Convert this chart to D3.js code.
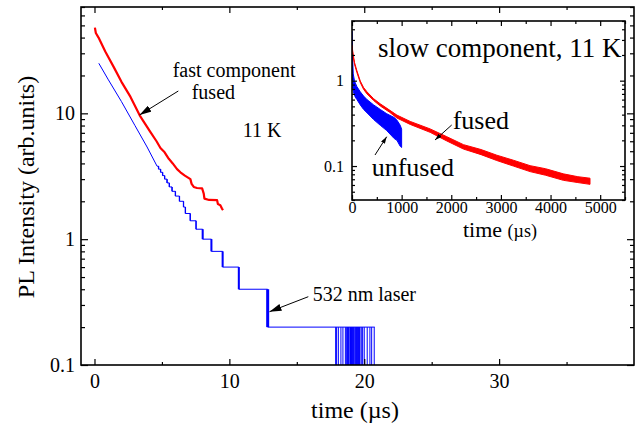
<!DOCTYPE html>
<html><head><meta charset="utf-8">
<script src="https://cdn.jsdelivr.net/npm/d3@7"></script>
<style>
body{margin:0;background:#fff}
svg{display:block}
text{font-family:"Liberation Serif","Times New Roman",serif;fill:#000}
</style>
</head><body>
<svg id="c" width="643" height="431"></svg>
<script>
// ---------------- DATA ----------------
// main panel: fast component (time in µs, PL intensity arb. units)
const fastFusedT = [0.03, 0.1, 0.3, 0.8, 1.43, 2.0, 2.67, 3.36, 4.15, 4.6, 4.89, 5.2, 5.51, 5.8, 6.12, 6.37, 6.7, 7.11, 7.2, 7.36, 7.6, 7.98, 8.1, 8.15, 8.5, 9.09, 9.15, 9.33, 9.45, 9.53];
const fastFusedV = [48, 43.5, 40, 31, 23.3, 17.8, 13.5, 9.6, 7.1, 6.0, 5.3, 4.9, 4.35, 4.0, 3.6, 3.4, 3.2, 3.0, 2.75, 2.6, 2.55, 2.53, 2.3, 2.1, 2.05, 2.04, 1.9, 1.86, 1.75, 1.7];

const fastUnfusedT = [0.32, 1.0, 2.0, 3.0, 3.9, 4.64];
const fastUnfusedV = [25, 18.7, 12.4, 8.0, 5.4, 3.8];

// quantised (photon-count) tail: level starts
const fastUnfusedStepT = [4.64, 4.75, 4.9, 5.05, 5.2, 5.38, 5.55, 5.75, 6.0, 6.3, 6.6, 6.74, 7.1, 7.53, 8.02, 8.67, 9.5, 10.7, 12.84, 20.78];
const fastUnfusedStepV = [3.8, 3.6, 3.4, 3.2, 3.0, 2.8, 2.6, 2.4, 2.2, 2.0, 1.8, 1.6, 1.4, 1.2, 1.0, 0.8, 0.6, 0.4, 0.2, 0.2];

// times where the unfused signal drops to zero counts
const fastUnfusedZeroT = [17.88, 17.95, 18.08, 18.27, 18.42, 18.6, 18.7, 18.74, 18.78, 18.82, 18.86, 18.94, 18.98, 19.02, 19.06, 19.1, 19.14, 19.18, 19.22, 19.26, 19.36, 19.4, 19.44, 19.48, 19.52, 19.56, 19.6, 19.64, 19.68, 19.78, 19.88, 20.0, 20.22, 20.42, 20.55, 20.74];

// inset: slow component (noise band lower / upper edge)
const slowFusedT  = [0, 20, 50, 100, 167, 234, 302, 436, 570, 750, 905, 1173, 1575, 1900, 2246, 2600, 2917, 3250, 3588, 3900, 4258, 4550, 4795];
const slowFusedLo = [2.42, 1.98, 1.56, 1.24, 0.95, 0.79, 0.70, 0.585, 0.505, 0.43, 0.365, 0.307, 0.248, 0.198, 0.158, 0.136, 0.116, 0.1, 0.086, 0.078, 0.068, 0.064, 0.061];
const slowFusedHi = [2.6, 2.1, 1.64, 1.30, 0.99, 0.83, 0.74, 0.615, 0.535, 0.455, 0.395, 0.333, 0.272, 0.222, 0.178, 0.156, 0.134, 0.117, 0.101, 0.093, 0.081, 0.075, 0.072];

const slowUnfusedT  = [0, 10, 25, 50, 67, 100, 167, 234, 302, 436, 570, 700, 850, 905, 972, 1000];
const slowUnfusedLo = [1.0, 0.85, 0.75, 0.68, 0.64, 0.6, 0.52, 0.46, 0.42, 0.35, 0.3, 0.26, 0.21, 0.2, 0.17, 0.165];
const slowUnfusedHi = [3.8, 2.0, 1.2, 1.0, 0.94, 0.85, 0.74, 0.66, 0.6, 0.52, 0.46, 0.41, 0.37, 0.345, 0.3, 0.27];

// axes
const mainXDomain = [-1, 40];
const mainYDomain = [0.1, 70];
const mainXTicks = [0, 10, 20, 30];
const mainXTickLabels = ["0", "10", "20", "30"];
const mainXMinor = [5, 15, 25, 35];
const mainYTicks = [0.1, 1, 10];
const mainYTickLabels = ["0.1", "1", "10"];
const mainYMinor = [0.2,0.3,0.4,0.5,0.6,0.7,0.8,0.9,2,3,4,5,6,7,8,9,20,30,40,50,60,70];

const insetXDomain = [0, 5500];
const insetYDomain = [0.04, 5];
const insetXTicks = [0, 1000, 2000, 3000, 4000, 5000];
const insetXTickLabels = ["0", "1000", "2000", "3000", "4000", "5000"];
const insetXMinor = [500, 1500, 2500, 3500, 4500, 5500];
const insetYTicks = [0.1, 1];
const insetYTickLabels = ["0.1", "1"];
const insetYMinor = [0.04,0.05,0.06,0.07,0.08,0.09,0.2,0.3,0.4,0.5,0.6,0.7,0.8,0.9,2,3,4,5];

// ---------------- DRAW ----------------
const RED = "#ff0000", BLUE = "#0000ff";
const svg = d3.select("#c");
const M = {l: 81, r: 634, t: 7, b: 365};
const I = {l: 352, r: 625, t: 21, b: 200};

const x = d3.scaleLinear().domain(mainXDomain).range([M.l, M.r]);
const y = d3.scaleLog().domain(mainYDomain).range([M.b, M.t]);
const xi = d3.scaleLinear().domain(insetXDomain).range([I.l, I.r]);
const yi = d3.scaleLog().domain(insetYDomain).range([I.b, I.t]);

const defs = svg.append("defs");
function marker(id, w, h) {
  defs.append("marker").attr("id", id).attr("markerUnits", "userSpaceOnUse")
    .attr("viewBox", `0 0 ${w} ${h}`).attr("refX", w).attr("refY", h/2)
    .attr("markerWidth", w).attr("markerHeight", h).attr("orient", "auto")
    .append("path").attr("d", `M0,0L${w},${h/2}L0,${h}Z`).attr("fill", "#000");
}
marker("ahBig", 12, 7);
marker("ahSmall", 7, 4.5);
defs.append("clipPath").attr("id", "clipM").append("rect")
  .attr("x", M.l).attr("y", M.t).attr("width", M.r - M.l).attr("height", M.b - M.t);
defs.append("clipPath").attr("id", "clipI").append("rect")
  .attr("x", I.l).attr("y", I.t).attr("width", I.r - I.l).attr("height", I.b - I.t);

// ---- main data
const gm = svg.append("g").attr("clip-path", "url(#clipM)");

gm.selectAll("line.zero").data(fastUnfusedZeroT).enter().append("line")
  .attr("x1", d => x(d)).attr("x2", d => x(d))
  .attr("y1", y(0.2)).attr("y2", M.b)
  .attr("stroke", BLUE).attr("stroke-width", 1);

gm.append("path").datum(fastUnfusedT.map((t, i) => [t, fastUnfusedV[i]]))
  .attr("d", d3.line().x(d => x(d[0])).y(d => y(d[1])))
  .attr("fill", "none").attr("stroke", BLUE).attr("stroke-width", 1);
const stepData = fastUnfusedStepT.map((t, i) => [t, fastUnfusedStepV[i]]);
gm.append("path").datum(stepData)
  .attr("d", d3.line().curve(d3.curveStepAfter).x(d => x(d[0])).y(d => y(d[1])))
  .attr("fill", "none").attr("stroke", BLUE).attr("stroke-width", 1);
gm.selectAll("line.riser").data(stepData.slice(1, -1).map((d, i) => [d[0], stepData[i][1], d[1]]))
  .enter().append("line")
  .attr("x1", d => x(d[0])).attr("x2", d => x(d[0]))
  .attr("y1", d => y(d[1])).attr("y2", d => y(d[2]))
  .attr("stroke", BLUE).attr("stroke-width", d => d[2] < 0.3 ? 3 : (d[2] < 1.1 ? 2 : 1.3));

gm.append("path").datum(fastFusedT.map((t, i) => [t, fastFusedV[i]]))
  .attr("d", d3.line().x(d => x(d[0])).y(d => y(d[1])))
  .attr("fill", "none").attr("stroke", RED).attr("stroke-width", 2.2).attr("stroke-linejoin", "round");

// ---- axes helper
function styleAxis(g) {
  g.select(".domain").remove();
  g.attr("font-family", null).attr("font-size", null);
  g.selectAll("line").attr("stroke", "#000").attr("stroke-width", 1.2);
}
function drawAxes(xs, ys, B, o) {
  const g = svg.append("g");
  g.append("g").attr("transform", `translate(0,${B.b})`)
    .call(d3.axisBottom(xs).tickValues(o.xt).tickFormat((d, i) => o.xl[i]).tickSize(-o.maj).tickPadding(o.xpad))
    .call(styleAxis).selectAll("text").style("font-size", o.fs + "px");
  g.append("g").attr("transform", `translate(0,${B.b})`)
    .call(d3.axisBottom(xs).tickValues(o.xm).tickFormat("").tickSize(-o.min)).call(styleAxis);
  g.append("g").attr("transform", `translate(0,${B.t})`)
    .call(d3.axisTop(xs).tickValues(o.xt).tickFormat("").tickSize(-o.maj)).call(styleAxis);
  g.append("g").attr("transform", `translate(0,${B.t})`)
    .call(d3.axisTop(xs).tickValues(o.xm).tickFormat("").tickSize(-o.min)).call(styleAxis);
  g.append("g").attr("transform", `translate(${B.l},0)`)
    .call(d3.axisLeft(ys).tickValues(o.yt).tickFormat((d, i) => o.yl[i]).tickSize(-o.ymaj).tickPadding(o.ypad))
    .call(styleAxis).selectAll("text").style("font-size", o.fs + "px");
  g.append("g").attr("transform", `translate(${B.l},0)`)
    .call(d3.axisLeft(ys).tickValues(o.ym).tickFormat("").tickSize(-o.ymin)).call(styleAxis);
  g.append("g").attr("transform", `translate(${B.r},0)`)
    .call(d3.axisRight(ys).tickValues(o.yt).tickFormat("").tickSize(-o.ymaj)).call(styleAxis);
  g.append("g").attr("transform", `translate(${B.r},0)`)
    .call(d3.axisRight(ys).tickValues(o.ym).tickFormat("").tickSize(-o.ymin)).call(styleAxis);
  svg.append("rect").attr("x", B.l).attr("y", B.t).attr("width", B.r - B.l).attr("height", B.b - B.t)
    .attr("fill", "none").attr("stroke", "#000").attr("stroke-width", 1.6);
}
drawAxes(x, y, M, {xt: mainXTicks, xl: mainXTickLabels, xm: mainXMinor, yt: mainYTicks, yl: mainYTickLabels, ym: mainYMinor,
  maj: 6, min: 3, ymaj: 7, ymin: 4, xpad: 9, ypad: 6, fs: 20});

svg.append("text").attr("x", 355).attr("y", 418).attr("text-anchor", "middle").style("font-size", "24px").text("time (µs)");
svg.append("text").attr("transform", "translate(34,187) rotate(-90)").attr("text-anchor", "middle")
  .style("font-size", "24px").text("PL Intensity (arb.units)");

function txt(xp, yp, s, fs) {
  return svg.append("text").attr("x", xp).attr("y", yp).style("font-size", fs + "px").text(s);
}
txt(172.7, 76.7, "fast component", 20);
txt(191.7, 99.3, "fused", 20);
txt(242.7, 136.7, "11 K", 20);
txt(312.7, 300.7, "532 nm laser", 20);
function arrow(x1, y1, x2, y2, m, w) {
  svg.append("line").attr("x1", x1).attr("y1", y1).attr("x2", x2).attr("y2", y2)
    .attr("stroke", "#000").attr("stroke-width", w).attr("marker-end", `url(#${m})`);
}
arrow(178.3, 91, 139.5, 115, "ahBig", 1);
arrow(308.3, 296.7, 269.5, 311.7, "ahBig", 1);

// ---- inset
svg.append("rect").attr("x", I.l).attr("y", I.t).attr("width", I.r - I.l).attr("height", I.b - I.t).attr("fill", "#fff");
const gi = svg.append("g").attr("clip-path", "url(#clipI)");
function band(T, Lo, Hi, col, sw) {
  const d = T.map((t, i) => [t, Lo[i], Hi[i]]);
  gi.append("path").datum(d)
    .attr("d", d3.area().x(p => xi(p[0])).y0(p => yi(p[1])).y1(p => yi(p[2])))
    .attr("fill", col).attr("stroke", col).attr("stroke-width", sw);
}
band(slowUnfusedT, slowUnfusedLo, slowUnfusedHi, BLUE, 1);
band(slowFusedT, slowFusedLo, slowFusedHi, RED, 1);

drawAxes(xi, yi, I, {xt: insetXTicks, xl: insetXTickLabels, xm: insetXMinor, yt: insetYTicks, yl: insetYTickLabels, ym: insetYMinor,
  maj: 5, min: 3, ymaj: 5, ymin: 3, xpad: 2, ypad: 8, fs: 16});

const tt = svg.append("text").attr("x", 463).attr("y", 237);
tt.append("tspan").style("font-size", "22px").text("time ");
tt.append("tspan").style("font-size", "18px").text("(µs)");

txt(378, 57, "slow component, 11 K", 27);
txt(452.7, 129.3, "fused", 26);
txt(371.7, 176, "unfused", 26);
arrow(451.7, 125, 435, 140, "ahSmall", 1);
arrow(375, 155, 386.7, 136.7, "ahSmall", 1);
</script>
</body></html>
